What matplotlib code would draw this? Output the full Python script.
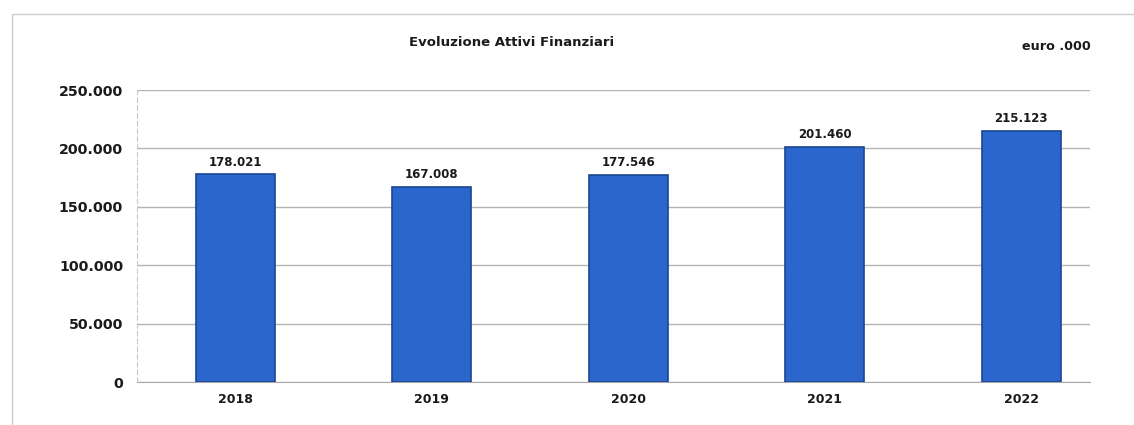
import matplotlib
matplotlib.use("Agg")
import matplotlib.pyplot as plt
from matplotlib.patches import Rectangle
from matplotlib.ticker import FuncFormatter

years = ["2018", "2019", "2020", "2021", "2022"]
values = [178021, 167008, 177546, 201460, 215123]
value_labels = ["178.021", "167.008", "177.546", "201.460", "215.123"]
yticks = [0, 50000, 100000, 150000, 200000, 250000]


def _fmt(v, pos=None):
    return f"{int(v):,}".replace(",", ".")


plt.rcParams["font.family"] = ["DejaVu Sans"]

fig = plt.figure(figsize=(11.34, 4.25), dpi=100)
fig.patch.set_facecolor("white")

# frame of the scanned chart box
fig.patches.append(Rectangle((12 / 1134, -0.05), 1.2, 1 - 14 / 425 + 0.05,
                             transform=fig.transFigure, fill=False,
                             edgecolor="#cccccc", linewidth=1.0))

ax = fig.add_axes([137 / 1134, 1 - 382 / 425, (1090 - 137) / 1134, (382 - 90) / 425])
x = range(len(years))
ax.bar(x, values, width=0.40, color="#2b66cc", edgecolor="#1b4592", linewidth=1.2, zorder=3)

for xi, v, lab in zip(x, values, value_labels):
    ax.annotate(lab, (xi, v), xytext=(0, 4), textcoords="offset points",
                ha="center", va="bottom", fontsize=8.5, fontweight="bold", color="#1a1a1a")

ax.set_xlim(-0.5, 4.35)
ax.set_ylim(0, 250000)
ax.set_yticks(yticks)
ax.yaxis.set_major_formatter(FuncFormatter(_fmt))
ax.set_xticks(list(x))
ax.set_xticklabels(years)
ax.grid(axis="y", color="#b4b4b4", linewidth=1.0, zorder=0)
ax.tick_params(axis="y", length=0, pad=10, labelsize=10.2)
ax.tick_params(axis="x", length=0, pad=8, labelsize=9)
for lbl in ax.get_yticklabels() + ax.get_xticklabels():
    lbl.set_fontweight("bold")
    lbl.set_color("#1a1a1a")
for s in ["top", "right"]:
    ax.spines[s].set_visible(False)
ax.spines["left"].set_color("#c8c8c8")
ax.spines["left"].set_linestyle((0, (4, 3)))
ax.spines["bottom"].set_color("#a8a8a8")

fig.text(512 / 1134, 1 - 42 / 425, "Evoluzione Attivi Finanziari", ha="center", va="center",
         fontsize=9.5, fontweight="bold", color="#1a1a1a")
fig.text(1091 / 1134, 1 - 47 / 425, "euro .000", ha="right", va="center",
         fontsize=9.2, fontweight="bold", color="#1a1a1a")

fig.savefig("out.png", dpi=100)
plt.close(fig)
